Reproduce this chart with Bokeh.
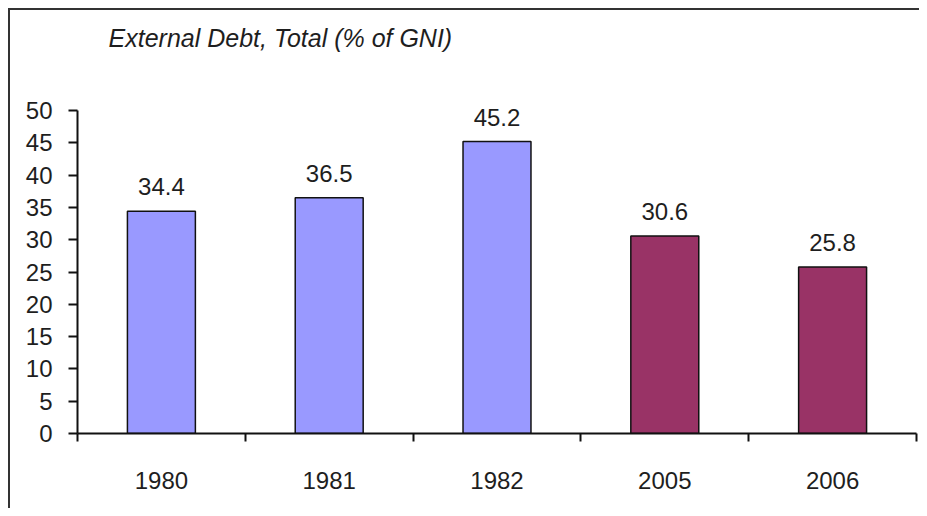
from bokeh.plotting import figure
from bokeh.models import ColumnDataSource, Range1d, FixedTicker, Label
from bokeh.core.properties import value
from bokeh.embed import file_html
from bokeh.resources import INLINE

years = ["1980", "1981", "1982", "2005", "2006"]
debt = [34.4, 36.5, 45.2, 30.6, 25.8]
colors = ["#9999FF", "#9999FF", "#9999FF", "#993366", "#993366"]
yticks = list(range(0, 55, 5))
title_text = "External Debt, Total (% of GNI)"

xs = [i + 0.5 for i in range(len(years))]
src = ColumnDataSource(dict(x=xs, top=debt, color=colors,
                            label=[f"{v:.1f}" for v in debt]))

FONT = "Liberation Sans"
TXT = "#1e1e1e"
FS = "24px"

p = figure(width=911, height=500, output_backend="svg", toolbar_location=None,
           x_range=Range1d(0, len(years)), y_range=Range1d(0, 65.5),
           min_border_left=67, min_border_right=5, min_border_top=0,
           min_border_bottom=77)
p.styles = {"margin-left": "8px", "margin-top": "8px",
            "border-left": "2px solid #333333", "border-top": "2px solid #333333"}
p.outline_line_color = None
p.xgrid.grid_line_color = None
p.ygrid.grid_line_color = None

p.vbar(x="x", top="top", width=0.405, bottom=0, source=src,
       fill_color="color", line_color="#111111", line_width=1.5)
p.text(x="x", y="top", text="label", source=src, text_align="center",
       text_baseline="bottom", y_offset=-16, text_font=value(FONT),
       text_font_size=FS, text_color=TXT)

p.add_layout(Label(x=0.185, y=61.3, text=title_text, text_font=FONT,
                   text_font_style="italic", text_font_size="25px",
                   text_baseline="middle", text_color=TXT))

# x axis
xa = p.xaxis[0]
xa.ticker = FixedTicker(ticks=xs, minor_ticks=list(range(len(years) + 1)))
xa.major_label_overrides = {x: y for x, y in zip(xs, years)}
xa.major_tick_out = 0
xa.major_tick_in = 0
xa.minor_tick_out = 8
xa.minor_tick_in = 0
xa.minor_tick_line_color = "#111111"
xa.minor_tick_line_width = 2
xa.axis_line_color = "#111111"
xa.axis_line_width = 2
xa.major_label_standoff = 30
xa.major_label_text_font = FONT
xa.major_label_text_font_size = FS
xa.major_label_text_color = TXT

# y axis
ya = p.yaxis[0]
ya.ticker = FixedTicker(ticks=yticks)
ya.bounds = (0, 50)
ya.minor_tick_line_color = None
ya.major_tick_out = 9
ya.major_tick_in = 0
ya.major_tick_line_color = "#111111"
ya.major_tick_line_width = 2
ya.axis_line_color = "#111111"
ya.axis_line_width = 2
ya.major_label_standoff = 16
ya.major_label_text_font = FONT
ya.major_label_text_font_size = FS
ya.major_label_text_color = TXT

open("out.html", "w").write(file_html(p, INLINE))
